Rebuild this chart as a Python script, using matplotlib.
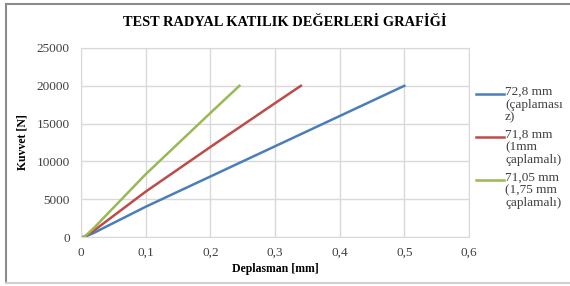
import numpy as np
import matplotlib.pyplot as plt
from matplotlib.lines import Line2D

plt.rcParams['font.family'] = ['Liberation Serif', 'DejaVu Serif']

# deplasman [mm] / kuvvet [N]
x_blue = [0.0, 0.005, 0.02, 0.1, 0.2, 0.3, 0.4, 0.5]
y_blue = [0, 0, 550, 4000, 8000, 12000, 16000, 20000]
x_red = [0.0, 0.005, 0.02, 0.1, 0.2, 0.3, 0.34]
y_red = [0, 0, 850, 6000, 11900, 17700, 20000]
x_green = [0.0, 0.005, 0.02, 0.1, 0.2, 0.245]
y_green = [0, 0, 1200, 8300, 16400, 20000]

labels = ['72,8 mm\n(çaplaması\nz)', '71,8 mm\n(1mm\nçaplamalı)', '71,05 mm\n(1,75 mm\nçaplamalı)']
colors = ['#4a7ebb', '#be4b48', '#98b954']

W, H = 570, 286
fig = plt.figure(figsize=(5.7, 2.86), dpi=100)

# chart frame, cut off at the right side
fig.add_artist(Line2D([6/W, 1], [1-4/H, 1-4/H], color='#8c8c8c', lw=1.5, transform=fig.transFigure))
fig.add_artist(Line2D([6/W, 6/W], [1-4/H, 1-283/H], color='#8c8c8c', lw=1.5, transform=fig.transFigure))
fig.add_artist(Line2D([6/W, 1], [1-283/H, 1-283/H], color='#d0d0d0', lw=1.5, transform=fig.transFigure))

ax = fig.add_axes([81/W, 1-237/H, (469-81)/W, (237-48)/H])

ax.plot(x_blue, y_blue, color=colors[0], lw=1.8)
ax.plot(x_red, y_red, color=colors[1], lw=1.8)
ax.plot(x_green, y_green, color=colors[2], lw=1.8)

ax.set_xlim(0, 0.6)
ax.set_ylim(0, 25000)
ax.set_xticks(np.arange(0, 0.61, 0.1))
ax.set_xticklabels(['0', '0,1', '0,2', '0,3', '0,4', '0,5', '0,6'])
ax.set_yticks(range(0, 25001, 5000))
ax.grid(True, color='#d9d9d9', lw=1)
for s in ax.spines.values():
    s.set_color('#d9d9d9')
ax.tick_params(length=0, labelsize=9.5, colors='#404040')
ax.tick_params(axis='x', pad=7)
ax.tick_params(axis='y', pad=8)

ax.set_xlabel('Deplasman [mm]', fontsize=8.5, fontweight='bold', labelpad=3)
ax.set_ylabel('Kuvvet [N]', fontsize=8.5, fontweight='bold', labelpad=6)
fig.text(0.5, 1-22/H, 'TEST RADYAL KATILIK DEĞERLERİ GRAFİĞİ', ha='center', va='center',
         fontsize=10.4, fontweight='bold')

# legend, line next to the first row of each label
for i, (lab, c) in enumerate(zip(labels, colors)):
    yy = 1 - (94 + i*43)/H
    fig.add_artist(Line2D([476/W, 504/W], [yy, yy], color=c, lw=1.8, transform=fig.transFigure))
    fig.text(505/W, yy + 8/H, lab, ha='left', va='top', fontsize=9.5, color='#404040', linespacing=1.08)

fig.savefig('out.png', dpi=100)
